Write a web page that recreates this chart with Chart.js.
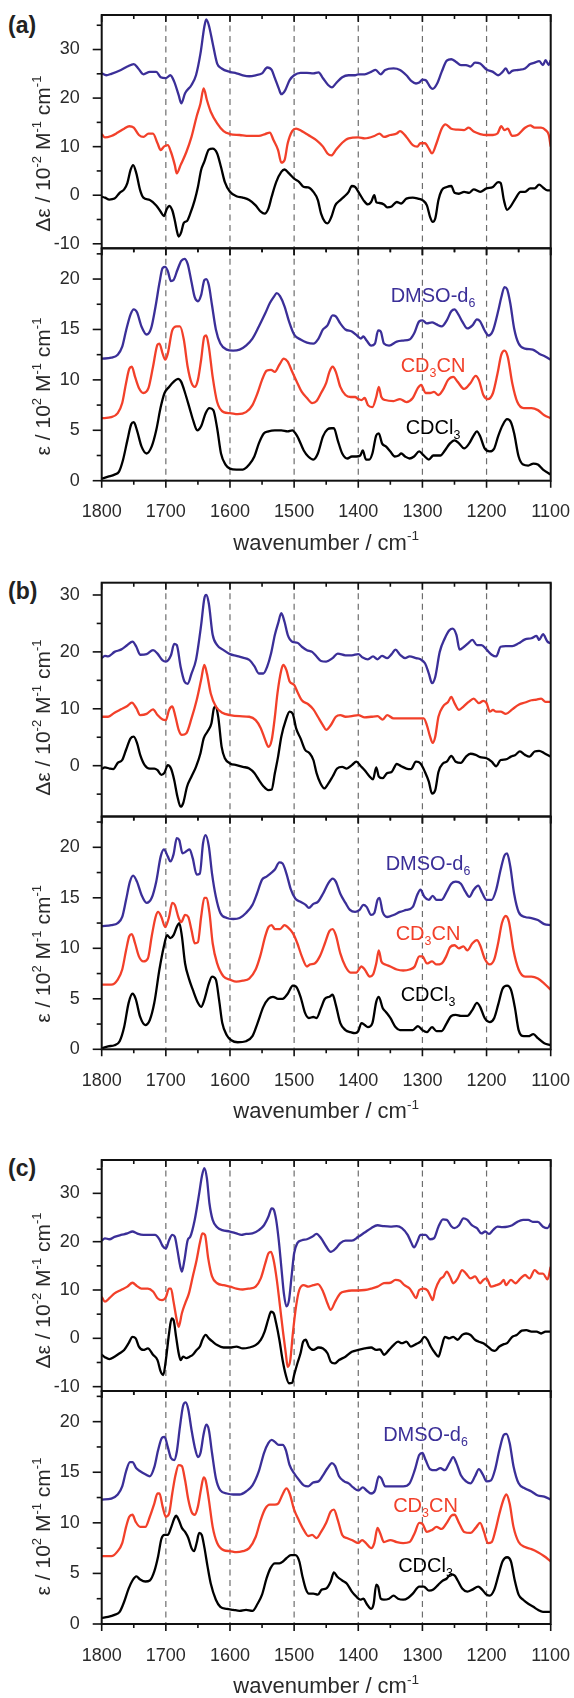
<!DOCTYPE html>
<html><head><meta charset="utf-8">
<script src="https://cdn.jsdelivr.net/npm/chart.js@4.4.1/dist/chart.umd.min.js"></script>
<style>
html,body{margin:0;padding:0;background:#fff;}
#wrap{position:relative;width:574px;height:1698px;overflow:hidden;background:#fff;}
canvas{position:absolute;left:0;top:0;}
.lab{position:absolute;font:bold 23px "Liberation Sans",Arial,sans-serif;line-height:23px;color:#222;}
</style></head><body>
<div id="wrap">
<div class="lab" style="left:8px;top:14px">(a)</div>
<div class="lab" style="left:8px;top:580px">(b)</div>
<div class="lab" style="left:8px;top:1157px">(c)</div>
<canvas id="c0" width="574" height="1698"></canvas>
<canvas id="c1" width="574" height="1698"></canvas>
<canvas id="c2" width="574" height="1698"></canvas>
<canvas id="c3" width="574" height="1698"></canvas>
<canvas id="c4" width="574" height="1698"></canvas>
<canvas id="c5" width="574" height="1698"></canvas>
</div>
<script>
// ---------- data: [wavenumber, value] ----------
const xTicks = [1800,1700,1600,1500,1400,1300,1200,1100];
const dashedAt = [1700,1600,1500,1400,1300,1200];
const seriesNames = ['DMSO-d6','CD3CN','CDCl3'];

// Panel (a) VCD, Δε / 10^-2 M^-1 cm^-1
const vcdA_dmso = [[1800,25.1],[1793,24.7],[1785,25.0],[1770,25.8],[1760,26.5],[1750,27.0],[1743,26.1],[1735,24.9],[1725,25.4],[1715,25.4],[1708,24.3],[1700,24.1],[1693,24.7],[1687,23.4],[1680,20.6],[1676,18.9],[1670,21.0],[1660,22.7],[1653,24.7],[1646,29.2],[1640,34.7],[1637,36.2],[1633,35.0],[1627,31.3],[1620,27.1],[1613,26.1],[1600,25.4],[1590,25.1],[1580,24.7],[1570,24.5],[1560,24.7],[1550,25.1],[1542,26.3],[1535,25.8],[1530,24.1],[1524,22.0],[1520,20.8],[1514,21.6],[1507,23.7],[1500,24.7],[1490,25.2],[1480,25.2],[1470,25.1],[1462,25.3],[1455,24.1],[1447,22.7],[1441,22.2],[1435,23.0],[1425,24.3],[1415,24.7],[1405,24.7],[1400,24.9],[1390,24.9],[1380,25.4],[1373,25.8],[1365,24.9],[1358,25.8],[1345,26.1],[1335,25.8],[1325,24.7],[1317,23.5],[1310,23.0],[1305,23.2],[1300,23.8],[1295,23.7],[1288,22.3],[1284,21.9],[1277,23.0],[1270,25.4],[1262,27.7],[1255,28.0],[1248,27.5],[1240,26.8],[1232,26.8],[1225,26.5],[1218,27.3],[1210,27.1],[1200,25.9],[1190,25.4],[1182,24.7],[1175,25.4],[1170,26.1],[1165,25.1],[1160,25.6],[1150,25.8],[1140,26.1],[1132,27.0],[1125,27.3],[1118,27.6],[1112,26.8],[1108,27.8],[1103,26.8],[1100,27.8]];
const vcdA_cd3cn = [[1800,12.6],[1795,11.9],[1785,12.2],[1775,12.9],[1765,13.7],[1757,14.2],[1750,13.9],[1742,12.4],[1735,12.0],[1727,12.7],[1720,12.7],[1713,10.7],[1708,9.3],[1703,10.0],[1697,10.3],[1692,8.9],[1686,6.2],[1683,4.5],[1677,6.2],[1668,8.9],[1660,12.0],[1652,16.2],[1646,18.9],[1641,22.0],[1636,19.6],[1630,17.2],[1620,14.8],[1610,13.2],[1600,12.6],[1585,12.4],[1570,12.2],[1555,12.2],[1545,12.6],[1538,12.9],[1532,11.3],[1525,9.3],[1520,6.7],[1515,7.2],[1510,10.7],[1503,13.2],[1497,13.7],[1488,13.2],[1478,12.4],[1465,11.3],[1455,10.0],[1448,8.6],[1442,8.2],[1435,9.3],[1425,10.8],[1415,11.7],[1400,11.9],[1390,11.7],[1375,12.2],[1367,12.7],[1360,12.0],[1350,12.4],[1340,12.7],[1335,13.2],[1325,12.0],[1315,10.3],[1308,10.0],[1303,10.7],[1296,10.7],[1290,9.6],[1285,8.6],[1278,10.7],[1270,13.7],[1264,14.6],[1255,13.7],[1245,13.5],[1235,13.4],[1228,13.9],[1220,13.1],[1210,12.6],[1200,12.4],[1190,12.4],[1183,12.7],[1177,14.2],[1172,13.4],[1167,13.7],[1160,12.2],[1152,12.4],[1140,13.9],[1132,14.4],[1125,13.9],[1115,13.9],[1108,13.4],[1103,12.4],[1100,10.0]];
const vcdA_cdcl3 = [[1800,-0.3],[1795,-0.5],[1788,-0.9],[1780,-0.7],[1772,0.5],[1765,1.2],[1760,2.5],[1755,5.2],[1751,6.2],[1746,4.5],[1740,1.0],[1735,-0.5],[1725,-1.0],[1715,-2.1],[1708,-3.4],[1703,-4.3],[1699,-3.0],[1695,-2.2],[1690,-3.1],[1686,-5.2],[1683,-7.2],[1680,-8.5],[1676,-7.6],[1672,-5.7],[1667,-5.3],[1662,-3.8],[1655,-1.0],[1650,1.7],[1645,5.2],[1640,6.9],[1633,9.4],[1627,9.6],[1620,8.6],[1614,5.8],[1608,2.7],[1600,0.7],[1590,-0.2],[1580,-0.5],[1570,-1.0],[1560,-2.1],[1552,-3.4],[1546,-3.8],[1540,-2.7],[1535,-0.3],[1528,2.7],[1520,4.8],[1515,5.3],[1508,4.5],[1500,3.4],[1492,2.7],[1485,1.7],[1478,1.6],[1470,0.7],[1463,-1.0],[1458,-3.8],[1452,-5.5],[1448,-5.8],[1442,-4.5],[1436,-2.1],[1428,-1.0],[1422,-0.3],[1415,0.7],[1410,1.9],[1405,1.7],[1398,0.3],[1392,-1.0],[1385,-1.9],[1380,-1.4],[1375,0.0],[1372,-1.4],[1367,-1.6],[1360,-1.9],[1355,-2.5],[1348,-2.3],[1340,-1.4],[1333,-1.7],[1325,-0.7],[1315,-0.5],[1307,-0.7],[1300,-1.0],[1293,-2.1],[1288,-4.5],[1284,-5.5],[1280,-4.8],[1275,-1.0],[1270,1.0],[1262,1.7],[1255,1.9],[1250,0.5],[1243,0.3],[1235,0.7],[1227,0.5],[1220,1.2],[1210,0.7],[1200,1.4],[1190,1.7],[1182,2.7],[1178,2.5],[1173,-1.0],[1168,-3.0],[1163,-2.4],[1155,-0.7],[1147,0.7],[1140,0.7],[1132,1.4],[1125,1.4],[1118,2.2],[1112,1.6],[1105,1.0],[1100,1.0]];

// Panel (a) IR, ε / 10^2 M^-1 cm^-1
const irA_dmso = [[1800,12.1],[1785,12.2],[1775,12.5],[1768,13.3],[1762,14.9],[1755,16.5],[1750,17.0],[1745,16.7],[1738,15.3],[1730,14.5],[1723,15.1],[1716,17.3],[1710,19.6],[1705,21.1],[1701,21.2],[1697,20.8],[1692,19.8],[1688,19.9],[1682,20.9],[1676,21.8],[1671,22.0],[1666,21.5],[1660,19.7],[1655,18.2],[1650,17.8],[1645,18.4],[1640,19.9],[1637,20.0],[1633,19.4],[1628,17.4],[1622,15.0],[1615,13.6],[1605,13.0],[1595,12.9],[1585,13.0],[1575,13.4],[1565,14.1],[1555,15.3],[1545,16.6],[1538,17.6],[1532,18.2],[1527,18.6],[1522,18.3],[1515,17.3],[1508,15.8],[1500,14.5],[1490,14.0],[1480,13.7],[1470,13.6],[1462,14.1],[1455,15.0],[1448,15.4],[1440,16.4],[1435,16.3],[1428,15.6],[1420,15.0],[1410,14.8],[1402,14.4],[1396,14.1],[1392,14.3],[1387,13.9],[1380,13.4],[1374,13.6],[1369,14.9],[1365,14.8],[1360,13.6],[1352,13.4],[1340,13.8],[1330,13.9],[1320,14.0],[1313,14.6],[1305,15.8],[1300,15.9],[1293,15.6],[1285,15.7],[1278,15.5],[1270,15.3],[1262,15.9],[1255,16.8],[1250,17.0],[1244,16.5],[1238,15.8],[1230,15.1],[1222,15.4],[1215,16.0],[1210,15.8],[1203,14.9],[1197,14.4],[1190,14.9],[1182,16.8],[1177,18.2],[1172,19.2],[1168,19.0],[1163,17.6],[1157,15.1],[1150,13.6],[1140,13.1],[1128,13.0],[1118,12.6],[1108,12.3],[1100,12.0]];
const irA_cd3cn = [[1800,6.2],[1785,6.3],[1775,6.7],[1768,7.7],[1762,9.7],[1757,11.1],[1753,11.3],[1748,10.3],[1742,9.2],[1735,8.7],[1727,9.2],[1720,11.3],[1713,13.5],[1710,13.6],[1705,12.6],[1701,12.0],[1697,12.6],[1690,14.9],[1683,15.3],[1678,15.3],[1672,14.0],[1666,11.3],[1660,9.7],[1655,9.3],[1650,10.0],[1645,12.0],[1640,14.3],[1637,14.4],[1633,13.3],[1627,10.3],[1620,7.8],[1610,6.8],[1600,6.7],[1588,6.6],[1575,6.8],[1565,7.5],[1557,8.7],[1550,10.0],[1543,10.9],[1536,11.0],[1530,10.8],[1523,11.5],[1516,12.1],[1510,11.8],[1503,10.8],[1495,9.7],[1488,8.8],[1480,8.2],[1472,7.7],[1465,7.9],[1458,8.7],[1450,9.7],[1445,10.8],[1440,11.3],[1435,10.8],[1428,9.3],[1420,8.5],[1412,8.3],[1405,8.3],[1400,8.1],[1395,8.0],[1390,8.2],[1385,7.5],[1378,7.3],[1372,8.3],[1368,9.3],[1364,8.3],[1358,8.0],[1345,7.9],[1335,8.1],[1325,7.8],[1315,8.2],[1307,9.2],[1302,9.5],[1295,8.7],[1288,8.7],[1282,8.8],[1275,8.5],[1268,9.0],[1260,10.0],[1252,10.3],[1245,9.8],[1235,9.1],[1225,9.7],[1217,10.4],[1212,10.0],[1205,8.5],[1198,8.1],[1190,8.7],[1183,10.6],[1177,12.5],[1172,12.9],[1167,12.3],[1160,9.7],[1152,7.8],[1142,7.2],[1130,7.2],[1120,7.0],[1110,6.5],[1100,6.2]];
const irA_cdcl3 = [[1800,0.2],[1790,0.4],[1780,0.6],[1773,0.9],[1767,2.0],[1760,4.0],[1754,5.6],[1750,5.8],[1745,5.0],[1738,3.4],[1730,2.7],[1722,3.4],[1715,5.0],[1708,7.3],[1702,8.7],[1695,9.3],[1688,9.8],[1681,10.1],[1676,9.8],[1670,8.7],[1663,7.2],[1657,5.9],[1651,5.0],[1645,5.4],[1638,6.7],[1632,7.2],[1626,7.0],[1620,5.2],[1614,2.7],[1607,1.6],[1600,1.2],[1590,1.1],[1580,1.1],[1570,1.6],[1562,2.4],[1555,3.7],[1547,4.7],[1540,4.9],[1530,5.0],[1520,5.0],[1510,4.9],[1503,5.0],[1495,4.4],[1485,3.0],[1478,2.4],[1470,2.1],[1463,2.7],[1455,4.4],[1448,5.1],[1442,5.2],[1438,5.2],[1432,4.0],[1425,2.7],[1417,2.2],[1410,2.4],[1403,2.4],[1397,2.5],[1393,3.0],[1388,2.1],[1383,2.1],[1378,2.7],[1372,4.5],[1368,4.7],[1363,3.7],[1357,3.4],[1350,2.9],[1343,2.4],[1337,2.5],[1333,2.7],[1327,2.4],[1320,2.2],[1313,2.4],[1305,2.9],[1298,2.5],[1290,2.1],[1283,2.5],[1277,2.5],[1272,2.5],[1265,3.0],[1257,3.7],[1250,4.0],[1243,3.7],[1235,3.2],[1227,3.7],[1220,4.5],[1215,4.9],[1210,4.4],[1203,3.2],[1195,2.9],[1188,3.2],[1182,4.4],[1175,5.5],[1168,6.1],[1162,5.8],[1157,4.7],[1150,2.4],[1143,1.6],[1135,1.5],[1127,1.7],[1120,1.6],[1112,1.1],[1100,0.6]];

// Panel (b) VCD
const vcdB_dmso = [[1800,18.9],[1795,19.3],[1790,19.2],[1780,20.0],[1770,20.4],[1760,21.2],[1752,21.8],[1746,20.9],[1740,19.5],[1730,19.6],[1720,20.3],[1713,19.7],[1705,18.5],[1700,18.3],[1692,19.4],[1687,21.4],[1683,21.2],[1677,17.4],[1671,14.8],[1666,14.4],[1660,16.2],[1653,18.6],[1645,24.7],[1640,29.4],[1637,30.0],[1633,28.5],[1627,23.0],[1620,21.2],[1610,20.3],[1600,19.6],[1590,19.3],[1580,19.0],[1570,18.6],[1562,17.5],[1555,16.2],[1548,16.2],[1542,17.4],[1536,19.7],[1530,23.0],[1525,25.0],[1520,26.8],[1515,25.3],[1510,23.0],[1503,21.8],[1495,21.6],[1488,20.9],[1480,20.3],[1472,20.0],[1465,19.2],[1458,18.4],[1450,18.3],[1440,18.9],[1432,19.7],[1420,19.4],[1410,19.4],[1400,19.6],[1393,19.0],[1385,18.7],[1377,19.2],[1370,18.7],[1363,19.3],[1355,18.9],[1348,19.6],[1342,20.4],[1335,19.5],[1327,18.9],[1320,19.2],[1310,18.9],[1303,18.7],[1296,18.0],[1290,16.2],[1285,14.5],[1280,15.6],[1273,20.0],[1265,22.4],[1258,23.8],[1253,24.1],[1247,23.0],[1242,20.4],[1235,20.9],[1228,21.6],[1222,22.1],[1215,21.2],[1208,21.2],[1200,20.4],[1192,19.5],[1185,19.2],[1178,20.9],[1170,21.0],[1160,21.0],[1150,21.5],[1140,22.2],[1130,22.4],[1122,22.8],[1118,22.1],[1112,23.1],[1105,21.8],[1100,21.5]];
const vcdB_cd3cn = [[1800,8.6],[1790,8.6],[1780,9.3],[1770,9.9],[1760,10.5],[1753,11.1],[1746,10.1],[1740,8.9],[1730,9.1],[1720,9.9],[1713,8.9],[1705,8.1],[1700,8.0],[1695,9.8],[1690,10.4],[1685,8.6],[1680,6.3],[1675,5.4],[1668,5.7],[1660,8.3],[1652,11.5],[1645,15.1],[1640,17.7],[1636,16.2],[1630,12.7],[1622,10.4],[1612,9.3],[1600,8.9],[1585,8.7],[1570,8.6],[1560,8.0],[1552,6.6],[1545,4.5],[1540,3.3],[1535,4.5],[1530,8.6],[1526,12.7],[1520,16.8],[1517,17.7],[1512,16.8],[1507,14.8],[1500,14.2],[1495,13.0],[1488,11.5],[1478,10.8],[1470,9.9],[1463,8.6],[1455,7.1],[1450,6.3],[1443,7.1],[1435,8.6],[1428,8.9],[1420,8.6],[1410,8.7],[1400,8.9],[1390,8.5],[1380,8.6],[1370,8.7],[1362,8.1],[1355,8.9],[1345,8.3],[1335,8.3],[1325,8.3],[1315,8.3],[1305,8.3],[1298,8.3],[1293,7.1],[1288,5.1],[1284,4.0],[1280,5.1],[1275,8.6],[1268,10.4],[1260,11.2],[1255,12.1],[1250,11.0],[1243,9.8],[1236,10.4],[1228,11.2],[1220,11.8],[1212,11.0],[1205,11.4],[1200,11.0],[1195,9.5],[1190,9.8],[1185,9.5],[1178,9.5],[1170,9.1],[1160,9.9],[1150,10.7],[1140,11.1],[1130,11.5],[1122,11.6],[1115,11.8],[1108,11.2],[1100,11.2]];
const vcdB_cdcl3 = [[1800,-0.6],[1795,-0.3],[1788,-0.5],[1782,-0.6],[1775,0.5],[1768,1.0],[1762,2.8],[1755,4.8],[1750,5.1],[1745,4.0],[1740,1.9],[1733,0.1],[1725,-0.5],[1718,-0.5],[1713,-0.8],[1707,-1.6],[1702,-1.2],[1697,0.1],[1692,-0.5],[1687,-2.5],[1682,-5.4],[1677,-7.2],[1673,-6.6],[1667,-3.7],[1660,-1.9],[1653,-0.2],[1646,2.2],[1641,4.8],[1635,6.0],[1629,7.4],[1625,10.1],[1622,10.4],[1618,8.3],[1613,3.3],[1608,1.3],[1600,0.4],[1590,0.1],[1580,-0.2],[1570,-0.5],[1562,-1.3],[1555,-2.5],[1548,-3.6],[1540,-4.3],[1535,-4.2],[1530,-1.3],[1525,1.6],[1520,5.1],[1513,8.0],[1507,9.5],[1502,9.1],[1497,6.6],[1490,4.8],[1483,2.8],[1476,2.2],[1470,1.0],[1465,-1.3],[1459,-3.1],[1453,-4.0],[1447,-3.2],[1440,-1.9],[1433,-0.5],[1425,-0.2],[1418,-0.5],[1410,0.1],[1403,0.7],[1396,-0.1],[1390,-0.8],[1383,-1.8],[1377,-2.4],[1372,-0.3],[1368,-1.9],[1362,-2.2],[1355,-1.3],[1348,-1.1],[1340,0.3],[1333,-0.1],[1325,-0.5],[1318,-0.6],[1310,0.7],[1303,0.4],[1296,-1.1],[1290,-2.8],[1285,-4.9],[1280,-4.3],[1275,-1.1],[1268,0.4],[1262,0.7],[1255,1.7],[1248,0.7],[1240,0.5],[1232,1.6],[1225,2.1],[1217,1.9],[1210,1.5],[1200,1.3],[1192,0.7],[1185,-0.1],[1178,1.0],[1170,1.1],[1162,1.6],[1155,1.9],[1148,2.5],[1140,1.9],[1133,1.6],[1125,2.5],[1118,2.6],[1110,2.2],[1100,1.6]];

// Panel (b) IR
const irB_dmso = [[1800,12.2],[1785,12.3],[1775,12.5],[1768,13.1],[1762,14.8],[1756,16.6],[1751,17.2],[1745,16.6],[1738,15.3],[1730,14.5],[1722,15.0],[1715,16.6],[1708,19.1],[1703,19.8],[1697,19.1],[1693,18.6],[1688,19.3],[1683,20.9],[1679,20.7],[1674,19.4],[1668,19.6],[1663,19.8],[1658,18.9],[1652,17.3],[1647,17.4],[1642,20.4],[1638,21.2],[1633,20.1],[1628,17.4],[1622,15.1],[1615,13.5],[1605,13.0],[1595,12.9],[1585,13.0],[1575,13.5],[1565,14.3],[1558,15.4],[1550,16.8],[1543,17.1],[1537,17.4],[1530,17.8],[1523,18.5],[1518,18.4],[1512,17.4],[1505,15.8],[1498,14.9],[1490,14.6],[1482,14.3],[1477,14.0],[1470,14.4],[1463,14.6],[1455,15.4],[1447,16.4],[1440,16.9],[1435,16.6],[1428,15.4],[1420,14.5],[1413,13.8],[1405,13.6],[1398,13.8],[1392,14.3],[1387,14.1],[1380,13.3],[1375,13.5],[1370,14.8],[1367,15.0],[1362,13.6],[1355,13.1],[1345,13.3],[1335,13.6],[1325,13.8],[1315,14.1],[1308,15.3],[1303,15.8],[1297,15.1],[1290,14.8],[1284,15.2],[1278,14.8],[1270,14.8],[1262,15.6],[1255,16.4],[1248,16.6],[1240,16.4],[1233,15.6],[1227,15.1],[1220,15.8],[1213,16.2],[1207,15.5],[1200,14.8],[1192,14.8],[1185,15.8],[1178,17.8],[1172,19.2],[1168,19.4],[1163,18.1],[1157,15.4],[1150,13.6],[1140,13.1],[1130,13.0],[1120,12.8],[1110,12.4],[1100,12.3]];
const irB_cd3cn = [[1800,6.4],[1785,6.4],[1775,6.9],[1768,7.9],[1762,9.8],[1757,11.2],[1753,11.4],[1748,10.5],[1742,9.2],[1735,8.7],[1728,9.0],[1722,11.2],[1716,13.1],[1712,13.6],[1707,13.1],[1701,12.1],[1695,13.1],[1690,14.5],[1686,14.3],[1680,13.0],[1676,12.6],[1670,13.3],[1665,13.1],[1660,11.8],[1655,10.5],[1650,10.6],[1645,13.1],[1640,15.0],[1637,15.0],[1632,13.5],[1627,10.5],[1620,8.5],[1610,7.2],[1600,6.9],[1590,6.7],[1580,6.8],[1570,7.0],[1560,7.9],[1553,9.2],[1545,11.2],[1540,12.1],[1535,12.3],[1530,11.9],[1522,11.9],[1515,12.3],[1510,12.1],[1502,11.5],[1495,10.5],[1488,9.2],[1480,8.2],[1475,8.4],[1468,8.5],[1460,9.2],[1452,10.5],[1445,11.7],[1440,11.9],[1435,11.3],[1428,9.5],[1420,8.2],[1412,7.6],[1403,7.6],[1395,8.2],[1390,7.9],[1382,7.2],[1377,7.4],[1372,8.5],[1368,9.8],[1364,8.7],[1358,8.4],[1350,8.2],[1340,7.9],[1330,7.8],[1320,7.9],[1312,8.2],[1305,9.2],[1300,9.2],[1293,8.5],[1285,8.7],[1278,8.4],[1270,8.5],[1263,9.2],[1257,10.1],[1250,10.3],[1243,10.0],[1236,10.2],[1230,9.8],[1222,10.5],[1215,10.8],[1210,10.3],[1203,9.0],[1195,8.4],[1188,8.9],[1182,10.5],[1176,12.5],[1170,13.2],[1165,12.6],[1158,9.8],[1150,7.9],[1140,7.2],[1130,7.2],[1120,7.0],[1110,6.5],[1100,5.9]];
const irB_cdcl3 = [[1800,0.1],[1790,0.3],[1780,0.4],[1772,0.8],[1765,2.2],[1758,4.6],[1752,5.5],[1747,5.0],[1740,3.2],[1732,2.4],[1725,2.9],[1718,4.6],[1710,7.9],[1703,10.2],[1698,11.3],[1693,11.0],[1688,11.3],[1683,12.1],[1679,12.5],[1675,11.2],[1670,8.5],[1664,7.0],[1658,5.9],[1650,4.6],[1645,4.2],[1640,4.9],[1633,6.5],[1628,7.2],[1622,6.9],[1617,4.9],[1612,2.6],[1605,1.4],[1598,0.9],[1588,0.7],[1575,0.8],[1565,1.3],[1557,2.6],[1548,4.2],[1540,5.0],[1533,5.2],[1525,5.0],[1518,5.0],[1510,5.5],[1502,6.3],[1497,6.2],[1490,5.2],[1483,3.6],[1477,3.1],[1470,3.2],[1465,3.1],[1458,4.1],[1452,5.0],[1445,5.2],[1440,5.4],[1435,4.4],[1428,2.6],[1420,1.9],[1412,1.7],[1405,1.6],[1400,1.8],[1395,2.6],[1390,2.4],[1385,2.2],[1378,2.6],[1372,4.7],[1368,5.2],[1362,4.1],[1357,3.7],[1350,3.1],[1342,2.2],[1335,1.9],[1325,1.9],[1315,1.9],[1307,2.3],[1300,1.9],[1293,1.7],[1285,2.2],[1278,1.8],[1270,1.8],[1262,2.6],[1255,3.3],[1248,3.4],[1240,3.3],[1230,3.3],[1222,3.9],[1215,4.6],[1210,4.2],[1203,3.1],[1195,2.7],[1188,3.1],[1182,4.4],[1175,6.0],[1168,6.3],[1162,5.9],[1156,4.2],[1150,1.9],[1142,1.3],[1135,1.3],[1127,1.5],[1120,1.1],[1110,0.6],[1100,0.4]];

// Panel (c) VCD
const vcdC_dmso = [[1800,20.2],[1795,20.7],[1788,20.5],[1780,21.0],[1770,21.4],[1760,21.7],[1752,22.1],[1745,21.7],[1735,21.4],[1725,21.4],[1717,21.4],[1710,20.5],[1705,19.1],[1700,18.6],[1695,20.3],[1690,21.4],[1686,21.0],[1682,18.3],[1678,15.2],[1675,13.8],[1671,16.2],[1666,20.3],[1662,21.0],[1655,24.5],[1648,30.0],[1644,33.4],[1640,35.2],[1636,33.1],[1632,27.9],[1627,24.5],[1620,23.0],[1612,22.4],[1600,22.1],[1590,21.7],[1582,21.4],[1575,21.6],[1565,21.7],[1555,22.4],[1547,23.4],[1540,25.2],[1535,26.9],[1532,26.7],[1528,24.5],[1524,20.3],[1520,14.8],[1516,9.3],[1512,6.6],[1508,7.9],[1504,12.8],[1500,17.6],[1495,19.7],[1488,20.3],[1480,20.5],[1472,21.0],[1465,21.6],[1458,20.7],[1450,19.0],[1443,17.9],[1435,18.6],[1428,19.7],[1420,20.2],[1410,20.2],[1400,21.0],[1390,21.9],[1380,22.8],[1370,23.4],[1360,23.2],[1350,23.1],[1340,23.2],[1332,22.8],[1323,21.4],[1318,20.0],[1313,18.8],[1308,20.0],[1303,21.4],[1295,21.4],[1288,20.5],[1282,20.7],[1275,23.1],[1268,24.6],[1262,24.5],[1255,23.2],[1250,22.8],[1243,23.4],[1236,24.8],[1230,24.5],[1223,23.4],[1215,22.8],[1208,21.7],[1202,22.1],[1196,21.6],[1190,22.4],[1183,23.1],[1175,23.0],[1167,23.1],[1160,23.4],[1152,24.1],[1143,24.5],[1135,24.5],[1128,24.1],[1120,24.1],[1112,23.1],[1105,22.8],[1100,23.8]];
const vcdC_cd3cn = [[1800,8.6],[1795,7.6],[1788,8.3],[1780,9.3],[1770,10.0],[1760,10.7],[1752,11.5],[1745,10.8],[1738,10.3],[1728,10.3],[1720,9.7],[1713,8.3],[1706,7.9],[1700,8.5],[1695,10.3],[1692,10.3],[1688,7.6],[1683,3.8],[1680,2.4],[1675,5.2],[1670,7.2],[1664,9.3],[1658,12.8],[1652,16.2],[1647,19.7],[1643,21.7],[1639,21.4],[1634,16.6],[1628,12.8],[1620,11.4],[1610,11.0],[1600,10.7],[1590,10.3],[1580,10.1],[1570,10.3],[1560,10.7],[1552,12.4],[1545,15.5],[1540,17.6],[1536,17.9],[1532,16.2],[1527,12.1],[1522,6.6],[1517,1.0],[1513,-3.1],[1510,-5.9],[1506,-4.5],[1502,1.0],[1497,6.6],[1492,10.0],[1485,11.0],[1478,10.7],[1470,11.0],[1463,11.2],[1455,9.7],[1448,7.2],[1443,5.9],[1436,7.6],[1428,9.3],[1420,9.7],[1410,9.9],[1400,9.9],[1390,10.0],[1380,10.3],[1370,10.7],[1360,11.4],[1350,11.5],[1342,12.1],[1335,11.9],[1328,11.0],[1320,10.3],[1315,9.3],[1310,8.3],[1305,10.0],[1298,10.3],[1292,9.9],[1287,8.6],[1284,7.9],[1280,10.0],[1273,12.1],[1267,12.8],[1262,13.8],[1257,12.8],[1252,11.4],[1245,12.4],[1238,14.1],[1232,13.4],[1225,12.4],[1218,12.8],[1210,11.4],[1205,12.1],[1200,12.4],[1193,10.7],[1185,11.0],[1178,11.4],[1173,12.1],[1170,11.0],[1162,12.1],[1155,11.4],[1147,12.4],[1140,13.1],[1133,12.4],[1125,14.1],[1118,13.4],[1112,13.4],[1105,12.2],[1100,14.8]];
const vcdC_cdcl3 = [[1800,-3.4],[1795,-3.9],[1788,-4.3],[1780,-3.8],[1772,-3.1],[1765,-2.4],[1758,-1.0],[1752,0.3],[1747,0.0],[1742,-1.7],[1735,-2.4],[1728,-2.1],[1720,-3.4],[1713,-4.5],[1708,-6.9],[1704,-7.6],[1700,-4.5],[1695,1.0],[1691,4.1],[1688,3.8],[1684,0.3],[1680,-3.1],[1677,-4.5],[1673,-3.8],[1668,-4.1],[1663,-3.8],[1658,-3.4],[1652,-2.4],[1647,-1.7],[1643,-0.3],[1638,0.7],[1633,0.0],[1627,-0.7],[1620,-1.4],[1610,-1.9],[1600,-1.9],[1590,-1.7],[1580,-2.1],[1570,-1.9],[1560,-1.4],[1552,-0.3],[1546,1.4],[1540,4.1],[1536,5.5],[1532,5.2],[1528,3.1],[1523,-0.3],[1518,-4.5],[1513,-7.6],[1508,-9.3],[1503,-9.2],[1500,-7.6],[1495,-5.2],[1490,-3.1],[1486,-0.7],[1482,-0.3],[1477,-1.7],[1470,-2.4],[1462,-1.9],[1455,-2.1],[1448,-3.1],[1443,-4.8],[1437,-5.2],[1430,-4.5],[1420,-3.8],[1410,-2.8],[1400,-2.4],[1390,-2.1],[1380,-1.9],[1372,-2.4],[1366,-2.3],[1360,-3.4],[1352,-2.4],[1345,-1.4],[1338,-0.7],[1332,-1.0],[1325,-0.7],[1318,-1.7],[1310,-1.2],[1303,-0.7],[1297,0.3],[1292,-0.3],[1287,-1.7],[1280,-3.1],[1275,-3.8],[1270,-1.7],[1265,0.3],[1258,0.0],[1252,0.3],[1245,-0.3],[1238,0.7],[1232,1.0],[1225,0.7],[1218,-0.3],[1212,-0.7],[1205,-1.0],[1198,-1.7],[1192,-2.4],[1187,-2.6],[1180,-1.7],[1173,-1.2],[1168,-1.0],[1160,0.3],[1153,0.7],[1145,1.6],[1138,1.7],[1130,1.4],[1122,1.4],[1115,1.0],[1108,1.4],[1100,1.4]];

// Panel (c) IR
const irC_dmso = [[1800,12.3],[1785,12.4],[1775,12.8],[1768,13.6],[1762,15.1],[1756,16.0],[1752,16.0],[1746,15.4],[1740,15.1],[1732,14.8],[1725,14.6],[1718,15.5],[1712,17.2],[1706,18.4],[1702,18.5],[1697,17.5],[1692,16.4],[1687,16.2],[1683,17.0],[1678,19.5],[1673,21.6],[1669,21.9],[1665,21.2],[1660,19.2],[1655,17.5],[1650,16.5],[1646,16.9],[1641,18.8],[1637,19.7],[1633,19.2],[1628,16.9],[1622,14.4],[1615,13.2],[1605,12.9],[1595,12.8],[1585,12.8],[1575,13.1],[1565,13.7],[1555,15.1],[1547,16.9],[1540,17.9],[1535,18.2],[1530,18.0],[1524,17.7],[1518,17.7],[1513,17.2],[1507,15.7],[1500,14.9],[1492,14.2],[1485,13.7],[1478,13.6],[1470,14.0],[1462,14.1],[1455,14.7],[1448,15.4],[1441,15.9],[1436,15.6],[1430,14.6],[1422,14.1],[1415,13.9],[1408,13.5],[1400,13.2],[1393,13.5],[1387,13.2],[1380,12.9],[1374,13.2],[1368,14.6],[1364,14.4],[1358,13.6],[1350,13.6],[1340,13.6],[1330,13.6],[1320,13.9],[1312,15.2],[1305,16.7],[1300,16.9],[1295,16.2],[1288,15.3],[1280,15.2],[1272,15.4],[1265,15.2],[1258,15.9],[1252,16.5],[1247,15.9],[1240,14.7],[1232,14.1],[1225,13.9],[1218,14.6],[1212,15.3],[1206,14.8],[1200,14.1],[1193,14.2],[1187,15.2],[1180,17.2],[1173,18.7],[1169,18.8],[1164,17.9],[1158,15.6],[1150,13.9],[1140,13.4],[1130,13.1],[1120,12.7],[1110,12.6],[1100,12.3]];
const irC_cd3cn = [[1800,6.7],[1785,6.7],[1775,7.2],[1768,8.0],[1762,9.6],[1757,10.6],[1752,10.8],[1747,10.1],[1740,9.6],[1732,9.6],[1725,10.6],[1718,11.9],[1713,12.9],[1710,12.9],[1705,11.6],[1700,10.6],[1695,10.9],[1690,12.9],[1685,14.7],[1680,15.7],[1675,15.6],[1670,14.2],[1665,12.3],[1660,11.1],[1655,10.8],[1650,11.6],[1645,13.4],[1641,14.5],[1638,14.2],[1633,12.3],[1627,9.6],[1620,8.0],[1610,7.3],[1600,7.2],[1590,7.1],[1580,7.2],[1570,7.5],[1560,8.6],[1552,10.3],[1545,11.4],[1538,11.8],[1530,11.8],[1525,11.9],[1518,12.8],[1512,13.4],[1507,12.9],[1500,11.3],[1493,10.3],[1485,9.3],[1478,8.7],[1472,8.8],[1465,8.5],[1458,9.1],[1450,10.0],[1443,11.1],[1438,11.3],[1432,10.3],[1425,8.8],[1418,8.5],[1410,8.3],[1400,8.0],[1394,8.3],[1388,8.0],[1380,7.5],[1375,8.0],[1370,9.5],[1366,9.0],[1360,8.1],[1350,8.3],[1340,8.1],[1330,8.0],[1320,8.1],[1312,9.0],[1305,10.0],[1300,9.9],[1293,9.1],[1285,9.3],[1278,9.6],[1270,9.4],[1262,10.0],[1255,10.7],[1250,10.8],[1243,10.0],[1235,9.1],[1225,9.0],[1217,9.5],[1210,10.0],[1204,9.1],[1198,8.0],[1192,8.1],[1186,9.3],[1180,10.9],[1173,12.4],[1169,12.8],[1164,11.9],[1158,9.6],[1150,8.1],[1140,7.6],[1130,7.4],[1120,7.1],[1110,6.7],[1100,6.2]];
const irC_cdcl3 = [[1800,0.6],[1790,0.7],[1780,0.9],[1772,1.2],[1765,2.2],[1758,3.5],[1752,4.3],[1746,4.7],[1740,4.4],[1732,4.2],[1725,4.3],[1718,5.2],[1712,6.7],[1707,8.4],[1702,8.8],[1697,8.8],[1692,9.5],[1687,10.4],[1684,10.7],[1680,10.3],[1675,9.5],[1670,9.1],[1665,8.5],[1660,7.5],[1656,7.2],[1652,8.0],[1648,9.0],[1644,8.8],[1640,7.6],[1635,5.7],[1630,4.0],[1622,2.4],[1615,1.7],[1605,1.5],[1595,1.4],[1585,1.3],[1575,1.4],[1565,1.3],[1557,2.0],[1550,2.9],[1543,4.5],[1537,5.5],[1530,6.0],[1523,6.0],[1517,6.2],[1512,6.5],[1505,6.8],[1498,6.8],[1492,6.2],[1487,4.7],[1482,3.5],[1477,3.0],[1470,3.0],[1463,2.9],[1457,3.4],[1450,3.5],[1443,4.2],[1438,5.1],[1433,4.7],[1425,4.3],[1418,4.0],[1410,3.2],[1403,2.7],[1397,2.4],[1392,2.5],[1387,2.0],[1380,1.5],[1376,2.0],[1372,3.9],[1369,3.7],[1365,2.5],[1360,2.4],[1352,2.5],[1345,2.8],[1338,2.5],[1330,2.4],[1322,2.6],[1315,3.0],[1305,3.7],[1298,3.7],[1290,3.3],[1283,3.4],[1275,3.9],[1268,4.3],[1262,4.5],[1256,4.9],[1250,4.8],[1245,4.3],[1238,3.5],[1230,3.2],[1222,3.4],[1213,3.7],[1207,3.4],[1200,2.9],[1195,2.8],[1188,3.4],[1182,4.7],[1175,6.2],[1168,6.6],[1162,6.2],[1156,4.3],[1150,2.9],[1143,2.4],[1135,2.0],[1127,1.7],[1120,1.4],[1112,1.2],[1100,1.2]];

// ---------- styling & layout ----------
const W = 574, H = 1698, PL = 101.7, PR = 550.7;
const FONT = '"Liberation Sans", Arial, Helvetica, sans-serif';
const BLUE = '#3b2f98', RED = '#f2402a', BLACK = '#000000';
const TXT = '#2a2a2a';

const vcdTitle = [['Δε / 10',0],['-2',1],[' M',0],['-1',1],[' cm',0],['-1',1]];
const irTitle  = [['ε / 10',0],['2',1],[' M',0],['-1',1],[' cm',0],['-1',1]];
const xTitle   = [['wavenumber / cm',0],['-1',1]];

function drawRich(ctx, parts, x, y, size, color){
  const small = size*0.62;
  let total = 0;
  const ws = parts.map(([t,s])=>{ctx.font = (s? small: size)+'px '+FONT; const w = ctx.measureText(t).width; total += w; return w;});
  let cx = x - total/2;
  ctx.fillStyle = color; ctx.textBaseline = 'alphabetic'; ctx.textAlign = 'left';
  parts.forEach(([t,s],i)=>{
    ctx.font = (s? small: size)+'px '+FONT;
    const dy = s===1 ? -size*0.42 : (s===-1 ? size*0.24 : 0);
    ctx.fillText(t, cx, y+dy);
    cx += ws[i];
  });
}

const decor = {
  id:'decor',
  beforeDatasetsDraw(chart, args, o){
    const {ctx, chartArea:a} = chart, x = chart.scales.x;
    ctx.save();
    ctx.strokeStyle = '#6e6e6e'; ctx.lineWidth = 1.2; ctx.setLineDash([6,4.5]);
    for (const v of dashedAt){
      const px = x.getPixelForValue(v);
      ctx.beginPath(); ctx.moveTo(px, a.top); ctx.lineTo(px, a.bottom); ctx.stroke();
    }
    ctx.restore();
  },
  afterDraw(chart, args, o){
    const {ctx, chartArea:a} = chart, x = chart.scales.x, y = chart.scales.y;
    ctx.save();
    ctx.strokeStyle = '#111'; ctx.lineWidth = 1.6; ctx.setLineDash([]);
    // x ticks (every 50): outward at bottom, inward at top
    for (let v = 1100; v <= 1800; v += 50){
      const px = x.getPixelForValue(v), L = (v % 100 === 0) ? 7 : 4;
      ctx.beginPath();
      ctx.moveTo(px, a.bottom); ctx.lineTo(px, a.bottom + L);
      ctx.moveTo(px, a.top); ctx.lineTo(px, a.top + L);
      ctx.stroke();
    }
    // y ticks outward at left
    const start = Math.ceil(o.ymin / o.minor) * o.minor;
    for (let v = start; v <= o.ymax + 1e-9; v += o.minor){
      const py = y.getPixelForValue(v);
      const major = Math.abs(v / o.major - Math.round(v / o.major)) < 1e-6;
      const L = major ? 9 : 5;
      ctx.beginPath(); ctx.moveTo(a.left, py); ctx.lineTo(a.left - L, py); ctx.stroke();
    }
    // frame
    ctx.lineWidth = 2; ctx.strokeStyle = '#111';
    ctx.strokeRect(a.left, a.top, a.right - a.left, a.bottom - a.top);
    // y title (rotated)
    ctx.save();
    ctx.translate(50, (a.top + a.bottom)/2 + o.titleShift);
    ctx.rotate(-Math.PI/2);
    drawRich(ctx, o.ir ? irTitle : vcdTitle, 0, 0, 21, TXT);
    ctx.restore();
    if (o.ir){
      drawRich(ctx, xTitle, (a.left + a.right)/2, a.bottom + 69, 22, TXT);
      for (const lg of o.legend){
        drawRich(ctx, lg.parts, lg.x, lg.y, 20, lg.color);
      }
    }
    ctx.restore();
  }
};

function makeChart(id, p){
  return new Chart(document.getElementById(id), {
    type: 'line',
    data: { datasets: p.series.map((s, i) => ({
      label: seriesNames[i],
      data: s.data.map(([wx, wy]) => ({x: wx, y: wy})),
      borderColor: s.color, borderWidth: 2.3, pointRadius: 0,
      cubicInterpolationMode: 'monotone', fill: false
    })) },
    options: {
      responsive: false, animation: false, events: [],
      layout: { autoPadding: false, padding: { top: p.top, bottom: p.ir ? 0 : H - p.bottom, left: 0, right: W - PR } },
      plugins: { legend: {display: false}, tooltip: {enabled: false}, decor: p },
      scales: {
        x: { type: 'linear', min: 1100, max: 1800, reverse: true, display: p.ir,
             grid: {display: false}, border: {display: false},
             afterBuildTicks(s){ s.ticks = xTicks.map(v => ({value: v})); },
             ticks: { padding: 13, color: TXT, font: {family: FONT, size: 18}, maxRotation: 0, autoSkip: false,
                      callback: v => String(v) },
             afterFit(s){ s.height = p.ir ? H - p.bottom : 0; s.paddingLeft = 0; s.paddingRight = 0; } },
        y: { type: 'linear', min: p.ymin, max: p.ymax,
             grid: {display: false}, border: {display: false},
             ticks: { stepSize: p.major, includeBounds: false, padding: 14, color: TXT, font: {family: FONT, size: 18},
                      callback: v => String(v) },
             afterFit(s){ s.width = PL; s.paddingTop = 0; s.paddingBottom = 0; } }
      }
    },
    plugins: [decor]
  });
}

const leg = (cx, y1, y2, y3) => [
  {parts: [['DMSO-d',0],['6',-1]], x: cx, y: y1, color: BLUE},
  {parts: [['CD',0],['3',-1],['CN',0]], x: cx, y: y2, color: RED},
  {parts: [['CDCl',0],['3',-1]], x: cx, y: y3, color: BLACK}
];

const cfgs = [
  {ir:false, top:15, bottom:248.3, ymin:-10.93, ymax:37.11, major:10, minor:5, titleShift:22,
   series:[{data:vcdA_dmso,color:BLUE},{data:vcdA_cd3cn,color:RED},{data:vcdA_cdcl3,color:BLACK}]},
  {ir:true, top:248.3, bottom:480.7, ymin:0, ymax:23.05, major:5, minor:2.5, titleShift:22,
   legend: leg(433, 302, 372, 434),
   series:[{data:irA_dmso,color:BLUE},{data:irA_cd3cn,color:RED},{data:irA_cdcl3,color:BLACK}]},
  {ir:false, top:582.7, bottom:816.5, ymin:-8.93, ymax:32.16, major:10, minor:5, titleShift:18,
   series:[{data:vcdB_dmso,color:BLUE},{data:vcdB_cd3cn,color:RED},{data:vcdB_cdcl3,color:BLACK}]},
  {ir:true, top:816.5, bottom:1049.3, ymin:0, ymax:23.05, major:5, minor:2.5, titleShift:21,
   legend: leg(428, 870, 940, 1001),
   series:[{data:irB_dmso,color:BLUE},{data:irB_cd3cn,color:RED},{data:irB_cdcl3,color:BLACK}]},
  {ir:false, top:1160, bottom:1391, ymin:-10.9, ymax:36.9, major:10, minor:5, titleShift:15,
   series:[{data:vcdC_dmso,color:BLUE},{data:vcdC_cd3cn,color:RED},{data:vcdC_cdcl3,color:BLACK}]},
  {ir:true, top:1391, bottom:1624, ymin:0, ymax:23.03, major:5, minor:2.5, titleShift:19,
   legend: leg(425.5, 1441, 1512, 1572),
   series:[{data:irC_dmso,color:BLUE},{data:irC_cd3cn,color:RED},{data:irC_cdcl3,color:BLACK}]}
];
cfgs.forEach((p, i) => makeChart('c' + i, p));
</script>
</body></html>
